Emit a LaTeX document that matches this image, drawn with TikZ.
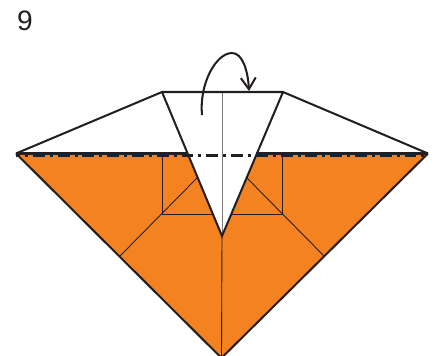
\documentclass[tikz,border=0pt]{standalone}
\usepackage{fontspec}
\setmainfont{Liberation Sans}
\usetikzlibrary{arrows.meta}
\definecolor{paper}{RGB}{245,130,32}
\definecolor{ink}{RGB}{35,31,32}
\begin{document}
\begin{tikzpicture}[
		x=0.2mm, y=-0.2mm,
		edge/.style={draw=ink, line width=1.15pt, line join=miter},
		crease/.style={draw=ink, line width=0.5pt},
		fold/.style={draw=ink, line width=1.4pt, dash pattern=on 6.8pt off 2.8pt on 1.7pt off 2.8pt, dash phase=4.5pt},
		turn/.style={draw=ink, line width=1.15pt, -{Straight Barb[length=6.5pt,width=8.5pt,line width=1.15pt]}},
		lbl/.style={font=\fontsize{16pt}{17pt}\selectfont, text=ink, inner sep=0pt}
		]
	\useasboundingbox (0,0) rectangle (436,355);
	% corners
	\coordinate (left) at (16,153.5);
	\coordinate (right) at (428,153.5);
	\coordinate (top1) at (162,92);
	\coordinate (top2) at (283,92);
	\coordinate (tip) at (222,236);
	\coordinate (bottom) at (221.5,358);
	\coordinate (meet1) at (188,153.5);
	\coordinate (meet2) at (256,153.5);
	% orange part
	\fill[paper] (left)--(right)--(bottom)--cycle;
	% creases
	\coordinate (sq1) at (162,214);
	\coordinate (sq2) at (282,214);
	\coordinate (sqt1) at (162,154);
	\coordinate (sqt2) at (282,154);
	\coordinate (in1) at (197,178);
	\coordinate (in2) at (247,178);
	\coordinate (low1) at (120,256);
	\coordinate (low2) at (324,256);
	\coordinate (hor1) at (212,214);
	\coordinate (hor2) at (232,214);
	\draw[crease] (sqt1)--(sq1)--(hor1);
	\draw[crease] (sqt2)--(sq2)--(hor2);
	\draw[crease] (low1)--(in1);
	\draw[crease] (low2)--(in2);
	\draw[crease] (tip)--(bottom);
	% white flap
	\fill[white] (top1)--(top2)--(tip)--cycle;
	\draw[crease, draw=ink!60] (222,92)--(tip);
	% fold line
	\coordinate (foldl) at (16,155.3);
	\coordinate (foldr) at (428,155.3);
	\draw[fold] (foldl)--(foldr);
	% outline
	\draw[edge] (left)--(top1)--(top2)--(right);
	\draw[edge] (left)--(bottom)--(right);
	\draw[edge] (top1)--(tip)--(top2);
	\draw[edge] (left)--(meet1);
	\draw[edge] (meet2)--(right);
	% arrow
	\coordinate (start) at (202,115);
	\coordinate (end) at (249,91);
	\draw[turn] (start) .. controls (199,84) and (216,53) .. (232,53) .. controls (243,53) and (248,72) .. (end);
	\node[lbl] (num) at (25,20.5) {9};
\end{tikzpicture}
\end{document}
